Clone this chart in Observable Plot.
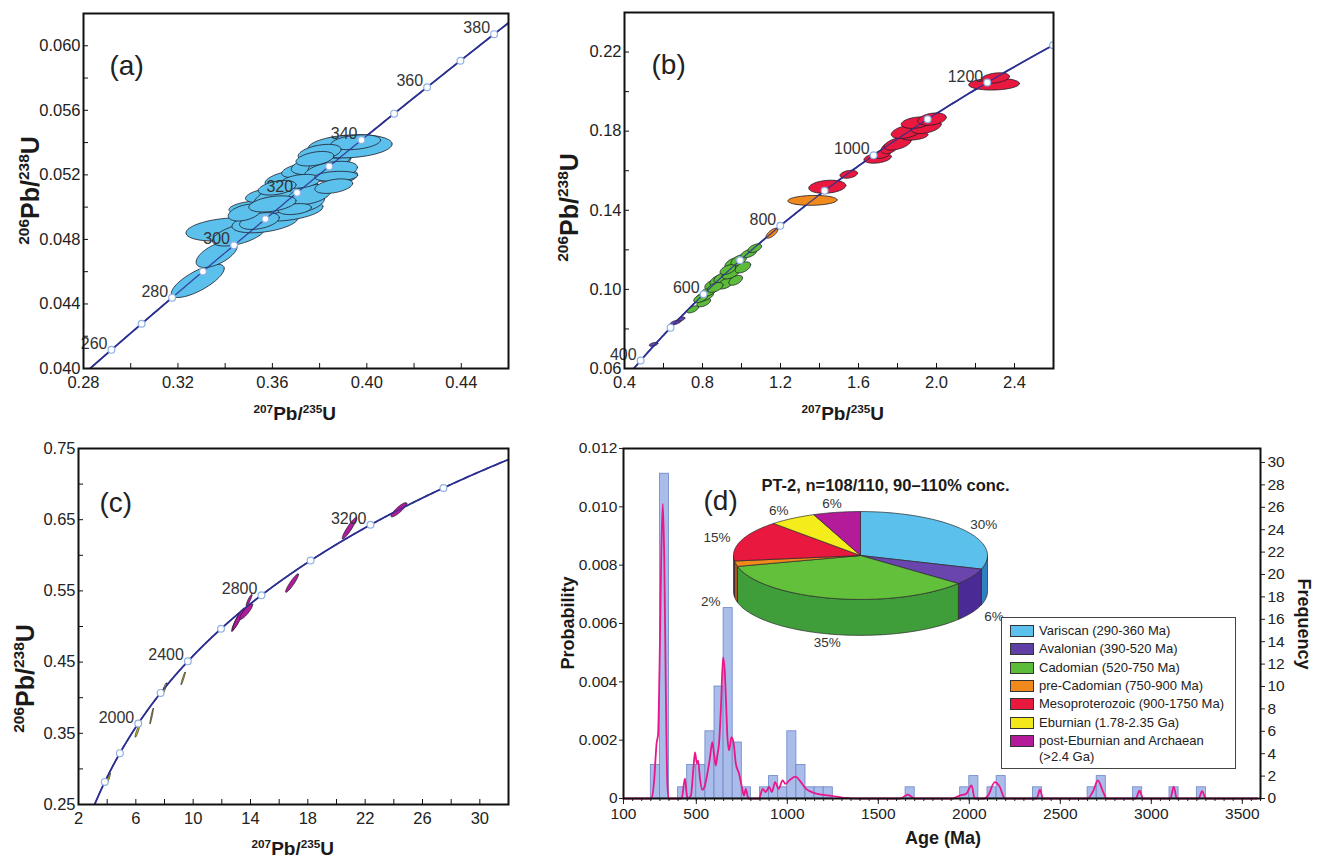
<!DOCTYPE html>
<html><head><meta charset="utf-8">
<script src="https://cdn.jsdelivr.net/npm/d3@7"></script>
<script src="https://cdn.jsdelivr.net/npm/@observablehq/plot@0.6"></script>
<style>
body{margin:0;background:#fff;}
#root{position:relative;width:1320px;height:859px;overflow:hidden;font-family:"Liberation Sans",Arial,sans-serif;background:#fff;}
.panel{position:absolute;}
.lab{position:absolute;font-weight:bold;color:#1a1a1a;white-space:nowrap;line-height:1;}
.lab sup{font-size:0.62em;vertical-align:0.62em;line-height:0;}
#legend{position:absolute;border:1px solid #444;background:#fff;font-size:13px;color:#222;}
#legend .row{position:absolute;left:0;white-space:nowrap;}
#legend .sw{position:absolute;width:22px;height:10px;border:1px solid #333;}
#legend .tx{position:absolute;left:37px;line-height:1;}
</style></head><body><div id="root"></div>
<script>
// ---------- constants for the concordia (decay constants per Ma) ----------
const L238 = 1.55125e-4, L235 = 9.8485e-4;

// ---------- Panel (a) ----------
const aMarkerAges = [260,270,280,290,300,310,320,330,340,350,360,370,380];
const aLabelAges = [260,280,300,320,340,360,380];
const aXLabels = [0.28,0.32,0.36,0.40,0.44];
const aXTicks = [0.30,0.32,0.34,0.36,0.38,0.40,0.42,0.44];
const aYLabels = [0.040,0.044,0.048,0.052,0.056,0.060];
const aYTicks = [0.042,0.044,0.046,0.048,0.050,0.052,0.054,0.056,0.058,0.060];
const aEllX = [0.3284,0.3364,0.3402,0.3458,0.3569,0.3657,0.3507,0.3577,0.3653,0.3681,0.3744,0.3806,0.3842,0.3918,0.3929,0.3953,0.3904,0.3848,0.3730,0.3758,0.3719,0.3545,0.3483,0.3800,0.3870,0.3695,0.3620,0.3780,0.3600,0.3860];
const aEllY = [0.04543,0.04708,0.04862,0.04831,0.04908,0.04980,0.04996,0.05073,0.05068,0.05176,0.05232,0.05268,0.05274,0.05361,0.05377,0.05402,0.05191,0.05222,0.05027,0.05078,0.05160,0.04914,0.04966,0.05337,0.05191,0.04988,0.05120,0.05300,0.05020,0.05130];
const aEllSx = [0.0112,0.0087,0.0168,0.0112,0.0140,0.0157,0.0091,0.0091,0.0140,0.0112,0.0105,0.0126,0.0091,0.0126,0.0178,0.0105,0.0056,0.0112,0.0091,0.0091,0.0084,0.0084,0.0070,0.0091,0.0091,0.0070,0.0080,0.0080,0.0100,0.0080];
const aEllSy = [0.00103,0.00082,0.00072,0.00072,0.00067,0.00067,0.00041,0.00046,0.00113,0.00057,0.00051,0.00067,0.00072,0.00057,0.00072,0.00046,0.00041,0.00062,0.00062,0.00062,0.00043,0.00052,0.00052,0.00052,0.00031,0.00034,0.00045,0.00045,0.00050,0.00045];
const aEllRho = [0.75,0.6,0.3,0.55,0.4,0.35,0.3,0.4,0.6,0.45,0.45,0.5,0.65,0.5,0.2,0.3,0.3,0.4,0.4,0.4,0.3,0.4,0.4,0.4,0.2,0.3,0.4,0.4,0.4,0.4];

// ---------- Panel (b) ----------
const bMarkerAges = [400,500,600,700,800,900,1000,1100,1200,1300];
const bLabelAges = [400,600,800,1000,1200];
const bXLabels = [0.4,0.8,1.2,1.6,2.0,2.4];
const bXTicks = [0.6,0.8,1.0,1.2,1.4,1.6,1.8,2.0,2.2,2.4];
const bYLabels = [0.06,0.10,0.14,0.18,0.22];
const bYTicks = [0.08,0.10,0.12,0.14,0.16,0.18,0.20,0.22];
const bEllGroup = ["Avalonian","Avalonian","Avalonian",
  "Cadomian","Cadomian","Cadomian","Cadomian","Cadomian","Cadomian","Cadomian","Cadomian","Cadomian","Cadomian","Cadomian","Cadomian","Cadomian","Cadomian","Cadomian","Cadomian","Cadomian","Cadomian",
  "preCadomian","preCadomian",
  "Meso","Meso","Meso","Meso","Meso","Meso","Meso","Meso","Meso","Meso","Meso","Meso","Meso"];
const bEllX = [0.549,0.662,0.690,
  0.750,0.806,0.811,0.832,0.852,0.878,0.904,0.919,0.945,0.955,0.970,0.986,1.007,1.037,1.068,0.865,0.930,0.790,
  1.156,1.364,
  1.440,1.550,1.698,1.721,1.759,1.800,1.887,1.845,1.947,1.896,1.977,2.295,2.302];
const bEllY = [0.0722,0.0833,0.0850,
  0.0899,0.0934,0.0965,0.0990,0.1025,0.1046,0.1060,0.1030,0.1081,0.1132,0.1046,0.1147,0.1111,0.1182,0.1208,0.1010,0.1100,0.0955,
  0.1284,0.1450,
  0.1519,0.1582,0.1664,0.1684,0.1716,0.1737,0.1776,0.1797,0.1822,0.1843,0.1861,0.2038,0.2069];
const bEllSx = [0.022,0.028,0.020,
  0.030,0.035,0.045,0.040,0.040,0.040,0.045,0.040,0.045,0.040,0.035,0.040,0.040,0.040,0.035,0.040,0.040,0.035,
  0.030,0.126,
  0.095,0.045,0.070,0.043,0.043,0.070,0.069,0.077,0.077,0.077,0.073,0.130,0.072];
const bEllSy = [0.0010,0.0012,0.0010,
  0.0018,0.0022,0.0025,0.0025,0.0025,0.0028,0.0028,0.0028,0.0028,0.0028,0.0025,0.0028,0.0028,0.0022,0.0022,0.0025,0.0025,0.0022,
  0.0025,0.0025,
  0.0033,0.0020,0.0026,0.0022,0.0030,0.0033,0.0021,0.0034,0.0034,0.0029,0.0031,0.0030,0.0026];
const bEllRho = [0.5,0.6,0.5,
  0.6,0.5,0.5,0.5,0.5,0.5,0.5,0.5,0.5,0.5,0.5,0.5,0.5,0.5,0.5,0.5,0.5,0.5,
  0.7,0.1,
  0.2,0.3,0.3,0.4,0.4,0.5,0.3,0.4,0.4,0.3,0.3,0.1,0.3];

// ---------- Panel (c) ----------
const cMarkerAges = [1600,1800,2000,2200,2400,2600,2800,3000,3200,3400];
const cLabelAges = [2000,2400,2800,3200];
const cXLabels = [2,6,10,14,18,22,26,30];
const cXTicks = [4,6,8,10,12,14,16,18,20,22,24,26,28,30];
const cYLabels = [0.25,0.35,0.45,0.55,0.65,0.75];
const cYTicks = [0.30,0.35,0.40,0.45,0.50,0.55,0.60,0.65,0.70];
const cEllGroup = ["Eburnian","Eburnian","Eburnian","Eburnian","Eburnian","post","post","post","post","post","post","post"];
const cEllX = [4.1,6.1,7.1,8.0,9.3,13.0,13.15,13.7,13.9,16.9,20.9,24.35];
const cEllY = [0.287,0.3525,0.374,0.413,0.427,0.506,0.5105,0.521,0.537,0.561,0.638,0.664];
const cEllSx = [0.12,0.15,0.12,0.15,0.15,0.32,0.40,0.45,0.20,0.45,0.50,0.55];
const cEllSy = [0.007,0.008,0.011,0.008,0.009,0.013,0.015,0.011,0.008,0.013,0.015,0.010];
const cEllRho = [0.9,0.9,0.95,0.9,0.95,0.93,0.93,0.88,0.9,0.93,0.93,0.88];

// ---------- Panel (d) ----------
const dTitle = "PT-2, n=108/110, 90–110% conc.";
const binWidth = 50;
const histStart = [250,300,400,450,500,550,600,650,700,750,850,900,950,1000,1050,1100,1150,1200,1650,1950,2000,2100,2150,2350,2650,2700,2900,3100,3250];
const histFreq  = [3,29,1,3,3,6,10,17,5,1,1,2,1,6,3,1,1,1,1,1,2,1,2,1,1,2,1,1,1];
const probAge = [100,255,268,282,290,298,308,316,324,333,341,348,420,432,438,446,452,470,485,493,503,510,520,533,545,561,575,588,598,607,616,625,636,647,656,664,671,680,693,705,717,735,750,762,772,786,845,864,882,900,915,933,952,974,990,1011,1044,1075,1103,1158,1231,1323,1400,1620,1663,1700,1910,1947,1983,2012,2030,2080,2103,2140,2168,2195,2370,2388,2406,2650,2682,2706,2737,2755,2915,2935,2955,3105,3123,3140,3260,3279,3300,3580];
const probVal = [0,0,0.0006,0.0019,0.0022,0.0045,0.0085,0.0101,0.0082,0.0035,0.0005,0,0,0.0005,0.00068,0.0002,0,0.0001,0.0011,0.00158,0.0012,0.0013,0.0007,0.0003,0.0004,0.00086,0.0014,0.00193,0.0015,0.00113,0.0015,0.0019,0.0032,0.00484,0.0044,0.0032,0.0021,0.00165,0.0021,0.0019,0.0012,0.00085,0.0004,0.0001,0.00033,0,0,0.00033,0.00022,0.0004,0.00022,0.00056,0.00033,0.00062,0.0005,0.00062,0.00075,0.00056,0.00033,0.00017,0.0001,0.00002,0,0,0.00013,0,0,0.0001,0.00016,0.00045,0,0,0.0001,0.00056,0.00039,0,0,0.0003,0,0,0.00027,0.00062,0.0002,0,0,0.00027,0,0,0.00041,0,0,0.00025,0,0];
const dXLabels = [100,500,1000,1500,2000,2500,3000,3500];
const dXMinor = d3.range(100, 3601, 50);
const dYLabels = [0,0.002,0.004,0.006,0.008,0.010,0.012];
const freqTicks = [0,2,4,6,8,10,12,14,16,18,20,22,24,26,28,30];
const freqMax = 31.25;
const probMax = 0.012;

// pie + legend
const pieNames = ["Variscan (290-360 Ma)","Avalonian (390-520 Ma)","Cadomian (520-750 Ma)","pre-Cadomian (750-900 Ma)","Mesoproterozoic (900-1750 Ma)","Eburnian (1.78-2.35 Ga)","post-Eburnian and Archaean (>2.4 Ga)"];
const piePct = [30,6,35,2,15,6,6];
const pieTopColors = ["#5bc0eb","#6a45ad","#62c03a","#f08a1c","#e8183f","#f5ec1c","#b31b9a"];
const pieSideColors = ["#2f80bf","#4a2a94","#3f9d3a","#a8561a","#a01d2a","#c9bf10","#7d1170"];
const legendColors = ["#5bc0eb","#5e3fa6","#5dbb3a","#f08a1c","#e8183f","#f2e81a","#b31b9a"];
const groupColors = {Avalonian:"#6a45ad", Cadomian:"#5dbb3a", preCadomian:"#f08a1c", Meso:"#e8183f", Eburnian:"#e8de1a", post:"#b31b9a"};

// ---------- helpers ----------
const FONT = '"Liberation Sans", Arial, sans-serif';
const root = document.getElementById("root");
function concordia(t0, t1, step){ return d3.range(t0, t1 + step/2, step).map(t => ({t, x: Math.expm1(L235*t), y: Math.expm1(L238*t)})); }
function agePts(ages){ return ages.map(t => ({t, x: Math.expm1(L235*t), y: Math.expm1(L238*t)})); }
function ellipsePts(X, Y, SX, SY, R, G){
  const pts = [];
  X.forEach((cx, i) => {
    const r = R[i], q = Math.sqrt(1 - r*r);
    for (let k = 0; k <= 60; k++){
      const t = 2*Math.PI*k/60;
      pts.push({id: i, g: G ? G[i] : "a", x: cx + SX[i]*Math.cos(t), y: Y[i] + SY[i]*(r*Math.cos(t) + q*Math.sin(t))});
    }
  });
  return pts;
}
function place(el, left, top){ el.classList.add("panel"); el.style.left = left+"px"; el.style.top = top+"px"; root.appendChild(el); }
function addLabel(html, cx, cy, size, rot){
  const d = document.createElement("div");
  d.className = "lab"; d.innerHTML = html; d.style.fontSize = size + "px";
  root.appendChild(d);
  const w = d.offsetWidth, h = d.offsetHeight;
  d.style.left = (cx - w/2) + "px"; d.style.top = (cy - h/2) + "px";
  if (rot) d.style.transform = `rotate(${rot}deg)`;
}

function concPanel(o){
  const innerW = o.width - o.mL - o.mR, innerH = o.height - o.mT - o.mB;
  const pts = ellipsePts(o.ex, o.ey, o.esx, o.esy, o.erho, o.eg);
  const groups = o.eg ? Array.from(new Set(o.eg)) : ["a"];
  const ellMarks = groups.map(g => Plot.line(pts.filter(p => p.g === g), {
    x: "x", y: "y", z: "id", fill: o.eg ? groupColors[g] : o.fill, stroke: "#1c1c2a", strokeWidth: 0.8, curve: "linear", clip: true
  }));
  const m = agePts(o.markers);
  const lab = agePts(o.labels);
  const svg = Plot.plot({
    width: o.width, height: o.height,
    marginLeft: o.mL, marginRight: o.mR, marginTop: o.mT, marginBottom: o.mB,
    style: {fontFamily: FONT, fontSize: "16.5px", color: "#222", background: "transparent"},
    x: {domain: o.xDomain}, y: {domain: o.yDomain},
    marks: [
      Plot.line(concordia(o.curve[0], o.curve[1], o.curve[2]), {x: "x", y: "y", stroke: "#2b2f90", strokeWidth: 1.8, clip: true}),
      ...ellMarks,
      Plot.line(concordia(o.curve[0], o.curve[1], o.curve[2]), {x: "x", y: "y", stroke: "#2b2f90", strokeWidth: 1.3, clip: true, strokeOpacity: 0.85}),
      Plot.dot(m, {x: "x", y: "y", r: 3.4, fill: "white", stroke: "#8fb1e3", strokeWidth: 1.2, clip: true}),
      Plot.text(lab, {x: "x", y: "y", text: d => String(d.t), textAnchor: "end", dx: -4, dy: -6, fill: "#333", fontSize: 16}),
      Plot.tickX(o.xTicks, {x: d => d, insetTop: innerH - 5, stroke: "#111", strokeWidth: 1}),
      Plot.tickY(o.yTicks, {y: d => d, insetRight: innerW - 5, stroke: "#111", strokeWidth: 1}),
      Plot.axisX(o.xLabels, {tickSize: 0, tickPadding: 8, tickFormat: o.xFmt, label: null, fontSize: 16.5}),
      Plot.axisY(o.yLabels, {tickSize: 0, tickPadding: 3, tickFormat: o.yFmt, label: null, fontSize: 16.5}),
      Plot.frame({stroke: "#111", strokeWidth: 2}),
      Plot.text([o.tag], {text: d => d, frameAnchor: "top-left", dx: o.tagDx, dy: o.tagDy, fontSize: 28, textAnchor: "start", fill: "#222"})
    ]
  });
  place(svg, o.left, o.top);
}

// ---------- Panel (a) ----------
concPanel({left: 0, top: 0, width: 530, height: 400, mL: 83, mR: 22, mT: 13, mB: 32,
  xDomain: [0.28, 0.46], yDomain: [0.040, 0.062],
  xLabels: aXLabels, xTicks: aXTicks, yLabels: aYLabels, yTicks: aYTicks,
  xFmt: d3.format(".2f"), yFmt: d3.format(".3f"),
  ex: aEllX, ey: aEllY, esx: aEllSx, esy: aEllSy, erho: aEllRho, fill: "#5bc0eb",
  curve: [250, 392, 1], markers: aMarkerAges, labels: aLabelAges, tag: "(a)", tagDx: 26, tagDy: 42});

// ---------- Panel (b) ----------
concPanel({left: 530, top: 0, width: 540, height: 400, mL: 94, mR: 17, mT: 12, mB: 32,
  xDomain: [0.4, 2.6], yDomain: [0.06, 0.24],
  xLabels: bXLabels, xTicks: bXTicks, yLabels: bYLabels, yTicks: bYTicks,
  xFmt: d3.format(".1f"), yFmt: d3.format(".2f"),
  ex: bEllX, ey: bEllY, esx: bEllSx, esy: bEllSy, erho: bEllRho, eg: bEllGroup,
  curve: [360, 1340, 4], markers: bMarkerAges, labels: bLabelAges, tag: "(b)", tagDx: 27, tagDy: 42});

// ---------- Panel (c) ----------
concPanel({left: 0, top: 400, width: 530, height: 459, mL: 78, mR: 22, mT: 48, mB: 55,
  xDomain: [2, 32], yDomain: [0.25, 0.75],
  xLabels: cXLabels, xTicks: cXTicks, yLabels: cYLabels, yTicks: cYTicks,
  xFmt: d3.format("d"), yFmt: d3.format(".2f"),
  ex: cEllX, ey: cEllY, esx: cEllSx, esy: cEllSy, erho: cEllRho, eg: cEllGroup,
  curve: [1400, 3600, 5], markers: cMarkerAges, labels: cLabelAges, tag: "(c)", tagDx: 21, tagDy: 44});

// ---------- Panel (d) ----------
const K = probMax / freqMax;
const hist = histStart.map((s, i) => ({start: s, end: s + binWidth, freq: histFreq[i]}));
const prob = probAge.map((a, i) => ({age: a, p: probVal[i]}));
const dSvg = Plot.plot({
  width: 760, height: 459, marginLeft: 63, marginRight: 60, marginTop: 48, marginBottom: 61,
  style: {fontFamily: FONT, fontSize: "15px", color: "#222", background: "transparent"},
  x: {domain: [100, 3600]}, y: {domain: [0, probMax]},
  marks: [
    Plot.rect(hist, {x1: "start", x2: "end", y1: 0, y2: d => d.freq * K, fill: "#a9bcea", stroke: "#6d86c7", strokeWidth: 0.8}),
    Plot.line(prob, {x: "age", y: "p", stroke: "#e8178a", strokeWidth: 1.8, curve: "monotone-x"}),
    Plot.axisX(dXMinor, {tickSize: 3, tickFormat: () => "", label: null}),
    Plot.axisX(dXLabels, {tickSize: 6, tickPadding: 3, label: null, fontSize: 15.5, tickFormat: d3.format("d")}),
    Plot.axisY(dYLabels, {anchor: "left", tickSize: 4, tickPadding: 2, label: null, fontSize: 15.5, tickFormat: d => d === 0 ? "0" : d.toFixed(3)}),
    Plot.axisY(freqTicks.map(f => f * K), {anchor: "right", tickSize: 4, tickPadding: 3, label: null, fontSize: 15.5, tickFormat: d => String(Math.round(d / K))}),
    Plot.frame({stroke: "#111", strokeWidth: 2}),
    Plot.text([dTitle], {text: d => d, frameAnchor: "top-left", dx: 262, dy: 31, fontSize: 16.5, fontWeight: "bold", textAnchor: "middle", fill: "#1a1a1a"}),
    Plot.text(["(d)"], {text: d => d, frameAnchor: "top-left", dx: 80, dy: 42, fontSize: 28, textAnchor: "start", fill: "#222"})
  ]
});
place(dSvg, 560, 400);

// ---------- 3D pie (overlay) ----------
const RY = 0.346, DEPTH = 0.283, PX = 127;
let cum = 0;
const slices = piePct.map((p, i) => { const a0 = 90 - cum*3.6; cum += p; const a1 = 90 - cum*3.6; return {i, p, a0, a1, mid: (a0 + a1)/2}; });
function arc(a0, a1, dy){
  const n = Math.max(2, Math.ceil(Math.abs(a0 - a1)/2));
  return d3.range(n + 1).map(k => { const a = (a0 + (a1 - a0)*k/n)*Math.PI/180; return {x: Math.cos(a), y: RY*Math.sin(a) - dy}; });
}
const sideMarks = [], topMarks = [];
slices.forEach(s => {
  const hi = Math.min(s.a0, 0), lo = Math.max(s.a1, -180);
  if (lo < hi) {
    const poly = [...arc(hi, lo, 0), ...arc(lo, hi, DEPTH)];
    poly.push(poly[0]);
    sideMarks.push(Plot.line(poly, {x: "x", y: "y", fill: pieSideColors[s.i], stroke: "#2a2a2a", strokeWidth: 0.7, curve: "linear"}));
  }
  const top = [{x: 0, y: 0}, ...arc(s.a0, s.a1, 0), {x: 0, y: 0}];
  topMarks.push(Plot.line(top, {x: "x", y: "y", fill: pieTopColors[s.i], stroke: "#2a2a2a", strokeWidth: 0.7, curve: "linear"}));
});
const pieLabels = slices.map(s => {
  const a = s.mid*Math.PI/180, sn = Math.sin(a);
  return {x: 1.2*Math.cos(a), y: 1.2*RY*sn - (sn < 0 ? DEPTH : 0), text: s.p + "%"};
});
const pieSvg = Plot.plot({
  width: 320, height: 180, margin: 0,
  style: {fontFamily: FONT, background: "transparent", overflow: "visible"},
  x: {domain: [-160/PX, 160/PX], axis: null}, y: {domain: [-115/PX, 65/PX], axis: null},
  marks: [
    ...sideMarks, ...topMarks,
    Plot.text(pieLabels, {x: "x", y: "y", text: "text", fontSize: 13.5, fill: "#333"})
  ]
});
place(pieSvg, 700, 490);
pieSvg.style.pointerEvents = "none";

// ---------- legend ----------
const leg = document.createElement("div");
leg.id = "legend";
Object.assign(leg.style, {left: "1001px", top: "617px", width: "233px", height: "150px"});
pieNames.forEach((name, i) => {
  const r = document.createElement("div"); r.className = "row";
  r.style.top = (13 + i*18.3) + "px";
  const sw = document.createElement("div"); sw.className = "sw";
  Object.assign(sw.style, {left: "8px", top: "-6px", background: legendColors[i]});
  const tx = document.createElement("div"); tx.className = "tx";
  tx.style.top = "-7px";
  tx.innerHTML = i === 6 ? "post-Eburnian and Archaean<br><span style='display:inline-block;margin-top:3px'>(&gt;2.4 Ga)</span>" : name;
  r.appendChild(sw); r.appendChild(tx); leg.appendChild(r);
});
root.appendChild(leg);

// ---------- axis titles ----------
const PB = (a, b) => `<sup>${a}</sup>Pb/<sup>${b}</sup>U`;
addLabel(PB(206, 238), 30, 190, 25, -90);
addLabel(PB(207, 235), 295, 413, 19, 0);
addLabel(PB(206, 238), 569, 207, 25, -90);
addLabel(PB(207, 235), 843, 413, 19, 0);
addLabel(PB(206, 238), 25, 678, 25, -90);
addLabel(PB(207, 235), 293, 848, 19, 0);
addLabel("Probability", 567, 623, 18, -90);
addLabel("Frequency", 1303, 624, 18, 90);
addLabel("Age (Ma)", 943, 838, 18, 0);
</script></body></html>
